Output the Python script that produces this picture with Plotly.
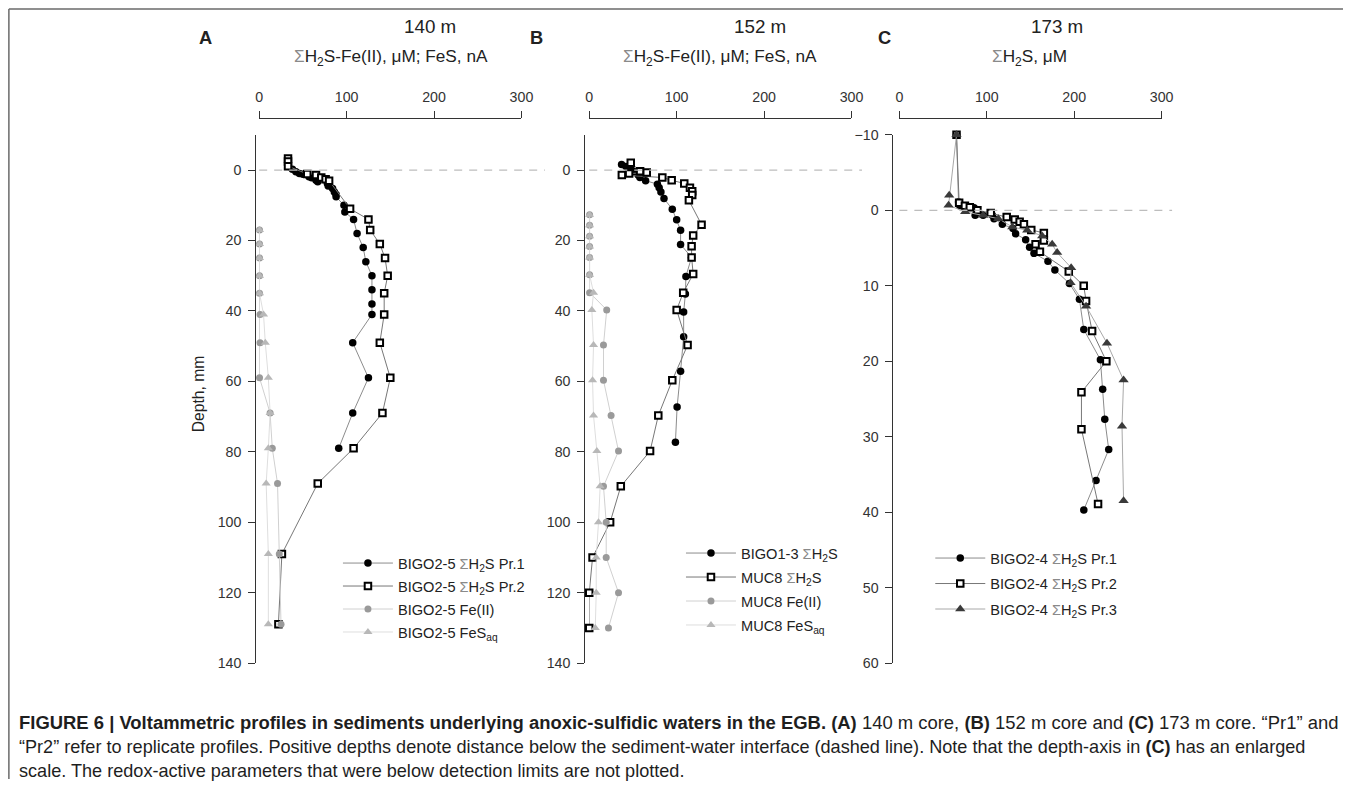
import plotly.graph_objects as go

W, H = 1355, 787
# measured photograph transform: shown = C + S * page_pixel
SX, CX = 0.991, 2.1
SY, CY = 0.9792, 8.2

# ---------------- Panel A (140 m) ----------------
a_pr1_val = [38, 42, 46, 50, 57, 60, 65, 67, 78, 79, 84, 86, 88, 88, 97, 98, 108, 112, 119, 122, 129, 129, 129, 129, 107, 125, 107, 91]
a_pr1_dep = [-0.2, 0.5, 1.0, 1.2, 1.9, 2.2, 2.9, 3.3, 3.8, 4.5, 5.2, 6.2, 6.9, 7.6, 10, 11.9, 14, 18, 22, 26, 30, 34, 38, 41, 49, 59, 69, 79]
a_pr2_val = [33, 33, 33, 55, 65, 71, 76, 80, 104, 125, 127, 138, 144, 147, 143, 143, 138, 150, 141, 108, 67, 26, 22]
a_pr2_dep = [-3.3, -2.4, -1.1, 1.1, 1.4, 2.1, 2.6, 3.0, 11, 14, 17, 21, 25, 30, 35, 41, 49, 59, 69, 79, 89, 109, 129]
a_fe_val = [0.4, 0.4, 0.4, 0.4, 0.4, 1, 1, 0.4, 12.5, 15, 21, 23, 25]
a_fe_dep = [17, 21, 25, 30, 35, 41, 49, 59, 69, 79, 89, 109, 129]
a_fes_val = [0.4, 0.4, 0.4, 0.4, 0.4, 5, 7, 10.5, 12.5, 10.5, 8, 10.5, 10.5]
a_fes_dep = [17, 21, 25, 30, 35, 41, 49, 59, 69, 79, 89, 109, 129]

# ---------------- Panel B (152 m) ----------------
b_bigo_val = [37, 42, 45, 48.5, 52, 56, 58, 64.5, 78, 80, 82, 85.5, 95, 100, 104.5, 104.5, 117, 110.6, 110, 108, 108, 104.5, 100.5, 98.6]
b_bigo_dep = [-1.6, -1, -0.5, 0, 0.5, 1.4, 2.1, 3, 4, 5, 6.2, 8.1, 11.1, 14.1, 17.1, 21.1, 24.8, 30.2, 35.2, 40.3, 47.3, 57.1, 67.3, 77.3]
b_muc_val = [47.5, 58.2, 65.8, 45.6, 37.3, 83.6, 94.3, 108.7, 115.2, 117.8, 117.8, 114, 128.5, 118.9, 117.1, 117.1, 118.9, 107.5, 100, 112.5, 95, 79, 69.6, 36.1, 23.9, 3.8, 0, 0]
b_muc_dep = [-2.1, 0.3, 0.7, 1.0, 1.4, 2.1, 2.9, 3.8, 5, 6, 7.1, 8.6, 15.5, 18.6, 21.6, 24.8, 29.5, 34.8, 39.7, 49.7, 59.7, 69.7, 79.8, 89.8, 100, 110, 120, 130]
b_fe_val = [0.4, 0.4, 0.4, 0.4, 0.4, 0.4, 0.4, 20, 16.3, 16.3, 25, 33.5, 16.3, 19.4, 19.4, 33.5, 22]
b_fe_dep = [12.7, 15.7, 18.8, 21.7, 24.8, 29.7, 34.8, 39.7, 49.7, 59.7, 69.7, 79.8, 89.8, 100, 110, 120, 130]
b_fes_val = [0.4, 0.4, 0.4, 0.4, 0.4, 0.4, 4.9, 3, 4.9, 3.8, 4.9, 8.7, 12.5, 10.6, 8, 8, 6.9]
b_fes_dep = [12.7, 15.7, 18.8, 21.7, 24.8, 29.7, 34.8, 39.7, 49.7, 59.7, 69.7, 79.8, 89.8, 100, 110, 120, 130]

# ---------------- Panel C (173 m) ----------------
c_pr1_val = [65.4, 67.7, 69.2, 85.5, 86.7, 95.8, 106.4, 108.3, 117.8, 130, 133, 144.5, 149, 154, 170, 177.9, 194.6, 206, 211, 230, 232.6, 235, 239.5, 225, 211]
c_pr1_dep = [-10, -1.1, -0.6, -0.35, 0.66, 0.66, 0.66, 1.1, 1.85, 2.4, 3.1, 3.9, 4.9, 5.7, 6.75, 7.9, 9.7, 11.8, 15.8, 19.8, 23.7, 27.7, 31.7, 35.8, 39.7]
c_pr2_val = [65.4, 68.4, 75, 80.6, 89.3, 104.5, 122.8, 132, 137.6, 142.5, 150.9, 165.3, 165.3, 155.8, 160.8, 193.8, 210.9, 213.6, 220.5, 236.8, 208.3, 208.3, 227.3]
c_pr2_dep = [-10, -1, -0.6, -0.4, 0, 0.35, 0.9, 1.2, 1.5, 1.85, 2.6, 3, 4, 4.5, 5.5, 8.1, 10, 12, 16, 20, 24.1, 29, 38.9]
c_pr3_val = [65.4, 57, 56.3, 75.3, 95.8, 113.2, 129.2, 146.3, 163.4, 174.8, 180.5, 196.5, 195.8, 213.6, 237.5, 256.5, 254.7, 256.5]
c_pr3_dep = [-10, -2.0, -0.66, 0.2, 0.66, 1.1, 2.2, 2.65, 3.4, 4.5, 5.6, 7.6, 9.6, 12.7, 17.6, 22.5, 28.6, 38.5]

x_ticks = [0, 100, 200, 300]
ab_depth_ticks = [0, 20, 40, 60, 80, 100, 120, 140]
c_depth_ticks = [-10, 0, 10, 20, 30, 40, 50, 60]

FONT = "Liberation Sans, Arial, Helvetica, sans-serif"
SIG = "<span style='color:#8a8a8a'>Σ</span>"


def px(x):
    return ((x - CX) / SX) / W


def py(y):
    return 1 - ((y - CY) / SY) / H


fig = go.Figure()


def add(xv, yv, name, axis, leg, style):
    fig.add_trace(go.Scatter(
        x=xv, y=yv, name=name, mode="lines+markers",
        xaxis="x" + axis, yaxis="y" + axis, legend=leg, legendgroup=name + axis,
        cliponaxis=False, **style))


black_circle = dict(marker=dict(symbol="circle", size=7.5, color="#000"), line=dict(color="#8c8c8c", width=1))
open_square = dict(marker=dict(symbol="square", size=6.5, color="#fff", line=dict(color="#000", width=2)),
                   line=dict(color="#777", width=1))
grey_circle = dict(marker=dict(symbol="circle", size=7, color="#9a9a9a"), line=dict(color="#d0d0d0", width=1))
grey_tri = dict(marker=dict(symbol="triangle-up", size=8, color="#b8b8b8"), line=dict(color="#dedede", width=1))
dark_tri = dict(marker=dict(symbol="triangle-up", size=9, color="#3a3a3a"), line=dict(color="#a8a8a8", width=1))

add(a_pr1_val, a_pr1_dep, "BIGO2-5 " + SIG + "H<sub>2</sub>S Pr.1", "", "legend", black_circle)
add(a_pr2_val, a_pr2_dep, "BIGO2-5 " + SIG + "H<sub>2</sub>S Pr.2", "", "legend", open_square)
add(a_fe_val, a_fe_dep, "BIGO2-5 Fe(II)", "", "legend", grey_circle)
add(a_fes_val, a_fes_dep, "BIGO2-5 FeS<sub>aq</sub>", "", "legend", grey_tri)

add(b_bigo_val, b_bigo_dep, "BIGO1-3 " + SIG + "H<sub>2</sub>S", "2", "legend2", black_circle)
add(b_muc_val, b_muc_dep, "MUC8 " + SIG + "H<sub>2</sub>S", "2", "legend2", open_square)
add(b_fe_val, b_fe_dep, "MUC8 Fe(II)", "2", "legend2", grey_circle)
add(b_fes_val, b_fes_dep, "MUC8 FeS<sub>aq</sub>", "2", "legend2", grey_tri)

add(c_pr1_val, c_pr1_dep, "BIGO2-4 " + SIG + "H<sub>2</sub>S Pr.1", "3", "legend3", black_circle)
add(c_pr2_val, c_pr2_dep, "BIGO2-4 " + SIG + "H<sub>2</sub>S Pr.2", "3", "legend3", open_square)
add(c_pr3_val, c_pr3_dep, "BIGO2-4 " + SIG + "H<sub>2</sub>S Pr.3", "3", "legend3", dark_tri)

AX = dict(showgrid=False, zeroline=False, showline=True, linecolor="#333", linewidth=1,
          ticks="outside", ticklen=7, tickcolor="#333", tickwidth=1,
          tickfont=dict(family=FONT, size=14.2, color="#333"))

panels = [
    ("", 258, 521, 254, [140, -10], ab_depth_ticks),
    ("2", 589, 852, 584, [140, -10], ab_depth_ticks),
    ("3", 900, 1163, 893, [60, -10], c_depth_ticks),
]
layout_axes = {}
for sfx, x0, x1, ylx, yr, yt in panels:
    layout_axes["xaxis" + sfx] = dict(AX, domain=[px(x0), px(x1)], range=[0, 300], side="top",
                                      anchor="free", position=py(118), tickvals=x_ticks,
                                      ticklabelstandoff=3)
    layout_axes["yaxis" + sfx] = dict(AX, domain=[py(663), py(135)], range=yr, anchor="free",
                                      position=px(ylx), tickvals=yt, ticklabelstandoff=4)

leg_common = dict(font=dict(family=FONT, size=14.6, color="#222"), bgcolor="rgba(0,0,0,0)",
                  xanchor="left", yanchor="top", itemwidth=50, traceorder="grouped")

fig.update_layout(
    width=W, height=H, margin=dict(l=0, r=0, t=0, b=0),
    paper_bgcolor="#fff", plot_bgcolor="rgba(0,0,0,0)",
    font=dict(family=FONT, color="#222"),
    legend=dict(leg_common, x=px(337), y=py(547), tracegroupgap=1),
    legend2=dict(leg_common, x=px(681), y=py(537), tracegroupgap=2),
    legend3=dict(leg_common, x=px(931), y=py(542), tracegroupgap=3.5),
    **layout_axes,
)

# dashed sediment-water interface
for sfx, ext in [("", 1.09), ("2", 1.04), ("3", 1.04)]:
    fig.add_shape(type="line", xref=("x" + sfx + " domain"), yref=("y" + sfx), x0=0, x1=ext, y0=0, y1=0,
                  line=dict(color="#bdbdbd", width=1.2, dash="8px,7px"))

# frame
fig.add_shape(type="line", xref="paper", yref="paper", x0=px(7), x1=1, y0=1 - 1 / H, y1=1 - 1 / H,
              line=dict(color="#6a6a6a", width=1.5))
fig.add_shape(type="line", xref="paper", yref="paper", x0=px(7), x1=px(7), y0=1 - 1 / H, y1=0,
              line=dict(color="#6a6a6a", width=1.5))

ann = []


def text(x, y, s, size, bold=False, anchor="center", angle=0, color="#222"):
    ann.append(dict(x=px(x), y=py(y), xref="paper", yref="paper", text=("<b>%s</b>" % s) if bold else s,
                    showarrow=False, xanchor=anchor, yanchor="middle", textangle=angle,
                    font=dict(family=FONT, size=size, color=color)))


text(204, 38, "A", 18.3, bold=True)
text(536, 38, "B", 18.3, bold=True)
text(885, 38, "C", 18.3, bold=True)
text(429, 27, "140 m", 18.8)
text(760, 27, "152 m", 18.8)
text(1058, 27, "173 m", 18.8)
text(390, 58, SIG + "H<sub>2</sub>S-Fe(II), μM; FeS, nA", 17.2)
text(720, 58, SIG + "H<sub>2</sub>S-Fe(II), μM; FeS, nA", 17.2)
text(1031, 58, SIG + "H<sub>2</sub>S, μM", 17.2)
text(198, 394, "Depth, mm", 15.7, angle=-90)

cap1 = ("<b>FIGURE 6 | Voltammetric profiles in sediments underlying anoxic-sulfidic waters in the EGB.</b> "
        "<b>(A)</b> 140 m core, <b>(B)</b> 152 m core and <b>(C)</b> 173 m core. “Pr1” and")
cap2 = ("“Pr2” refer to replicate profiles. Positive depths denote distance below the sediment-water interface "
        "(dashed line). Note that the depth-axis in <b>(C)</b> has an enlarged")
cap3 = "scale. The redox-active parameters that were below detection limits are not plotted."
CAPX = 15
text(CAPX, 722, cap1, 18.45, anchor="left", color="#1e1e1e")
text(CAPX, 747, cap2, 18.1, anchor="left", color="#1e1e1e")
text(CAPX, 771, cap3, 18.1, anchor="left", color="#1e1e1e")

fig.update_layout(annotations=ann)

fig.write_html("out.html", config=dict(displayModeBar=False),
               post_script="document.body.style.margin='0';document.body.style.overflow='hidden';")
